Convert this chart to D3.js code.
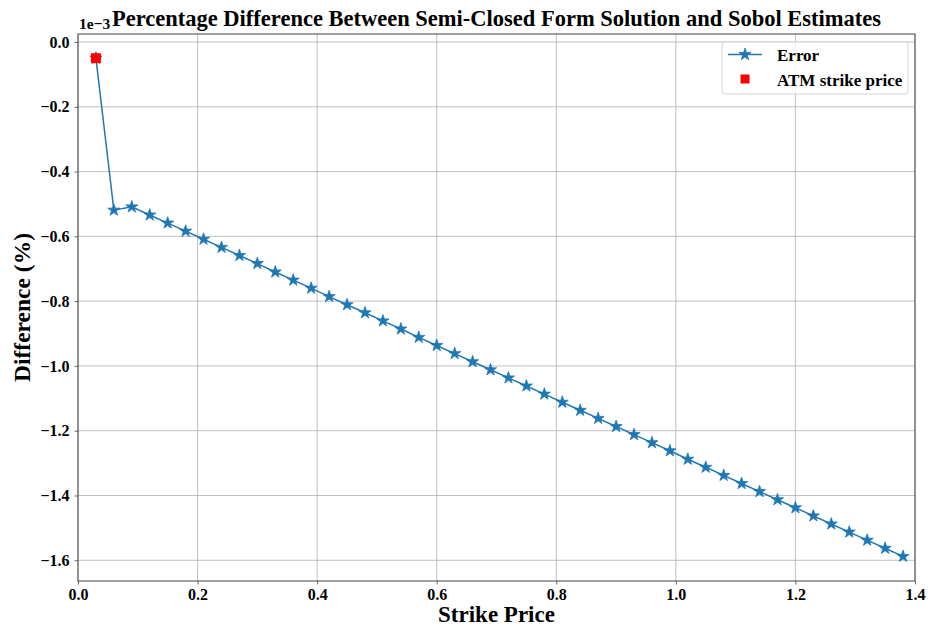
<!DOCTYPE html>
<html>
<head>
<meta charset="utf-8">
<script src="https://cdn.jsdelivr.net/npm/d3@7"></script>
<style>
  body { margin: 0; background: #fff; }
  text { font-family: "Liberation Serif", "Times New Roman", serif; font-weight: bold; }
</style>
</head>
<body>
<div id="chart"></div>
<script>
// strike prices (x) and error values (units of 1e-3 %)
var strikes = [0.03, 0.06, 0.09, 0.12, 0.15, 0.18, 0.21, 0.24, 0.27, 0.30,
    0.33, 0.36, 0.39, 0.42, 0.45, 0.48, 0.51, 0.54, 0.57, 0.60,
    0.63, 0.66, 0.69, 0.72, 0.75, 0.78, 0.81, 0.84, 0.87, 0.90,
    0.93, 0.96, 0.99, 1.02, 1.05, 1.08, 1.11, 1.14, 1.17, 1.20,
    1.23, 1.26, 1.29, 1.32, 1.35, 1.38];
var errors = [-0.050, -0.519, -0.509, -0.534, -0.559, -0.584, -0.609, -0.634, -0.659, -0.684,
    -0.710, -0.735, -0.760, -0.786, -0.811, -0.836, -0.861, -0.886, -0.912, -0.937,
    -0.962, -0.987, -1.012, -1.037, -1.062, -1.087, -1.112, -1.137, -1.162, -1.187,
    -1.212, -1.237, -1.262, -1.288, -1.313, -1.338, -1.363, -1.388, -1.413, -1.438,
    -1.463, -1.488, -1.513, -1.538, -1.563, -1.588];
var atmStrike = [0.03];
var atmError = [-0.050];
var xTicks = [0.0, 0.2, 0.4, 0.6, 0.8, 1.0, 1.2, 1.4];
var yTicks = [0.0, -0.2, -0.4, -0.6, -0.8, -1.0, -1.2, -1.4, -1.6];

var width = 928, height = 631;
var margin = { top: 34, right: 13, bottom: 50, left: 78 };
var plotW = width - margin.left - margin.right,
    plotH = height - margin.top - margin.bottom;

var svg = d3.select("#chart")
    .append("svg")
    .attr("width", width)
    .attr("height", height);

var g = svg.append("g")
    .attr("transform", "translate(" + margin.left + "," + margin.top + ")");

var x = d3.scaleLinear().domain([0, 1.4]).range([0, plotW]);
var y = d3.scaleLinear().domain([0.0247, -1.664]).range([0, plotH]);

var fmt = function(d) { return d3.format(".1f")(d).replace("-", "\u2212"); };

// grid
g.append("g").selectAll("line")
    .data(xTicks)
    .enter().append("line")
    .attr("x1", function(d) { return x(d); })
    .attr("x2", function(d) { return x(d); })
    .attr("y1", 0).attr("y2", plotH)
    .attr("stroke", "#b0b0b0").attr("stroke-width", 0.8);
g.append("g").selectAll("line")
    .data(yTicks)
    .enter().append("line")
    .attr("y1", function(d) { return y(d); })
    .attr("y2", function(d) { return y(d); })
    .attr("x1", 0).attr("x2", plotW)
    .attr("stroke", "#b0b0b0").attr("stroke-width", 0.8);

// axes
var xAxis = g.append("g")
    .attr("transform", "translate(0," + plotH + ")")
    .call(d3.axisBottom(x).tickValues(xTicks).tickFormat(fmt).tickSize(3.5).tickPadding(4));
var yAxis = g.append("g")
    .call(d3.axisLeft(y).tickValues(yTicks).tickFormat(fmt).tickSize(3.5).tickPadding(5));

[xAxis, yAxis].forEach(function(ax) {
    ax.select(".domain").remove();
    ax.selectAll("line").attr("stroke", "#444").attr("stroke-width", 0.8);
    ax.selectAll("text")
        .attr("font-size", 16)
        .attr("fill", "#000")
        .style("font-family", "Liberation Serif, serif")
        .style("font-weight", "bold");
});

// frame
g.append("rect")
    .attr("width", plotW).attr("height", plotH)
    .attr("fill", "none").attr("stroke", "#444").attr("stroke-width", 1);

// error line
var pts = strikes.map(function(s, i) { return [s, errors[i]]; });
var line = d3.line()
    .x(function(d) { return x(d[0]); })
    .y(function(d) { return y(d[1]); });

g.append("path")
    .datum(pts)
    .attr("d", line)
    .attr("fill", "none")
    .attr("stroke", "#1f77b4")
    .attr("stroke-width", 1.5);

var star = d3.symbol().type(d3.symbolStar).size(46);
g.selectAll(".star")
    .data(pts)
    .enter().append("path")
    .attr("class", "star")
    .attr("d", star)
    .attr("transform", function(d) { return "translate(" + x(d[0]) + "," + y(d[1]) + ")"; })
    .attr("fill", "#1f77b4")
    .attr("stroke", "#1f77b4")
    .attr("stroke-width", 0.8);

// ATM marker
g.selectAll(".atm")
    .data(atmStrike)
    .enter().append("rect")
    .attr("class", "atm")
    .attr("x", function(d) { return x(d) - 5; })
    .attr("y", function(d, i) { return y(atmError[i]) - 5; })
    .attr("width", 10).attr("height", 10)
    .attr("fill", "#ff0000");

// legend
var lg = svg.append("g").attr("transform", "translate(722,42)");
lg.append("rect")
    .attr("width", 186).attr("height", 52)
    .attr("rx", 3)
    .attr("fill", "#fff").attr("fill-opacity", 0.8)
    .attr("stroke", "#d6d6d6");
lg.append("line")
    .attr("x1", 6).attr("x2", 40).attr("y1", 12.5).attr("y2", 12.5)
    .attr("stroke", "#1f77b4").attr("stroke-width", 1.5);
lg.append("path")
    .attr("d", star)
    .attr("transform", "translate(23,12.5)")
    .attr("fill", "#1f77b4").attr("stroke", "#1f77b4").attr("stroke-width", 0.8);
lg.append("text").attr("x", 55).attr("y", 18.5).attr("font-size", 17).text("Error");
lg.append("rect")
    .attr("x", 18.5).attr("y", 32.5).attr("width", 9).attr("height", 9)
    .attr("fill", "#ff0000");
lg.append("text").attr("x", 55).attr("y", 43.5).attr("font-size", 17).text("ATM strike price");

// titles
svg.append("text")
    .attr("x", margin.left + plotW / 2).attr("y", 26)
    .attr("text-anchor", "middle")
    .attr("font-size", 22.5)
    .text("Percentage Difference Between Semi-Closed Form Solution and Sobol Estimates");

svg.append("text")
    .attr("x", 79).attr("y", 29)
    .attr("font-size", 15.5)
    .text("1e\u22123");

svg.append("text")
    .attr("x", margin.left + plotW / 2).attr("y", 622)
    .attr("text-anchor", "middle")
    .attr("font-size", 23)
    .text("Strike Price");

svg.append("text")
    .attr("transform", "translate(30," + (margin.top + plotH / 2) + ") rotate(-90)")
    .attr("text-anchor", "middle")
    .attr("font-size", 23.5)
    .text("Difference (%)");
</script>
</body>
</html>
